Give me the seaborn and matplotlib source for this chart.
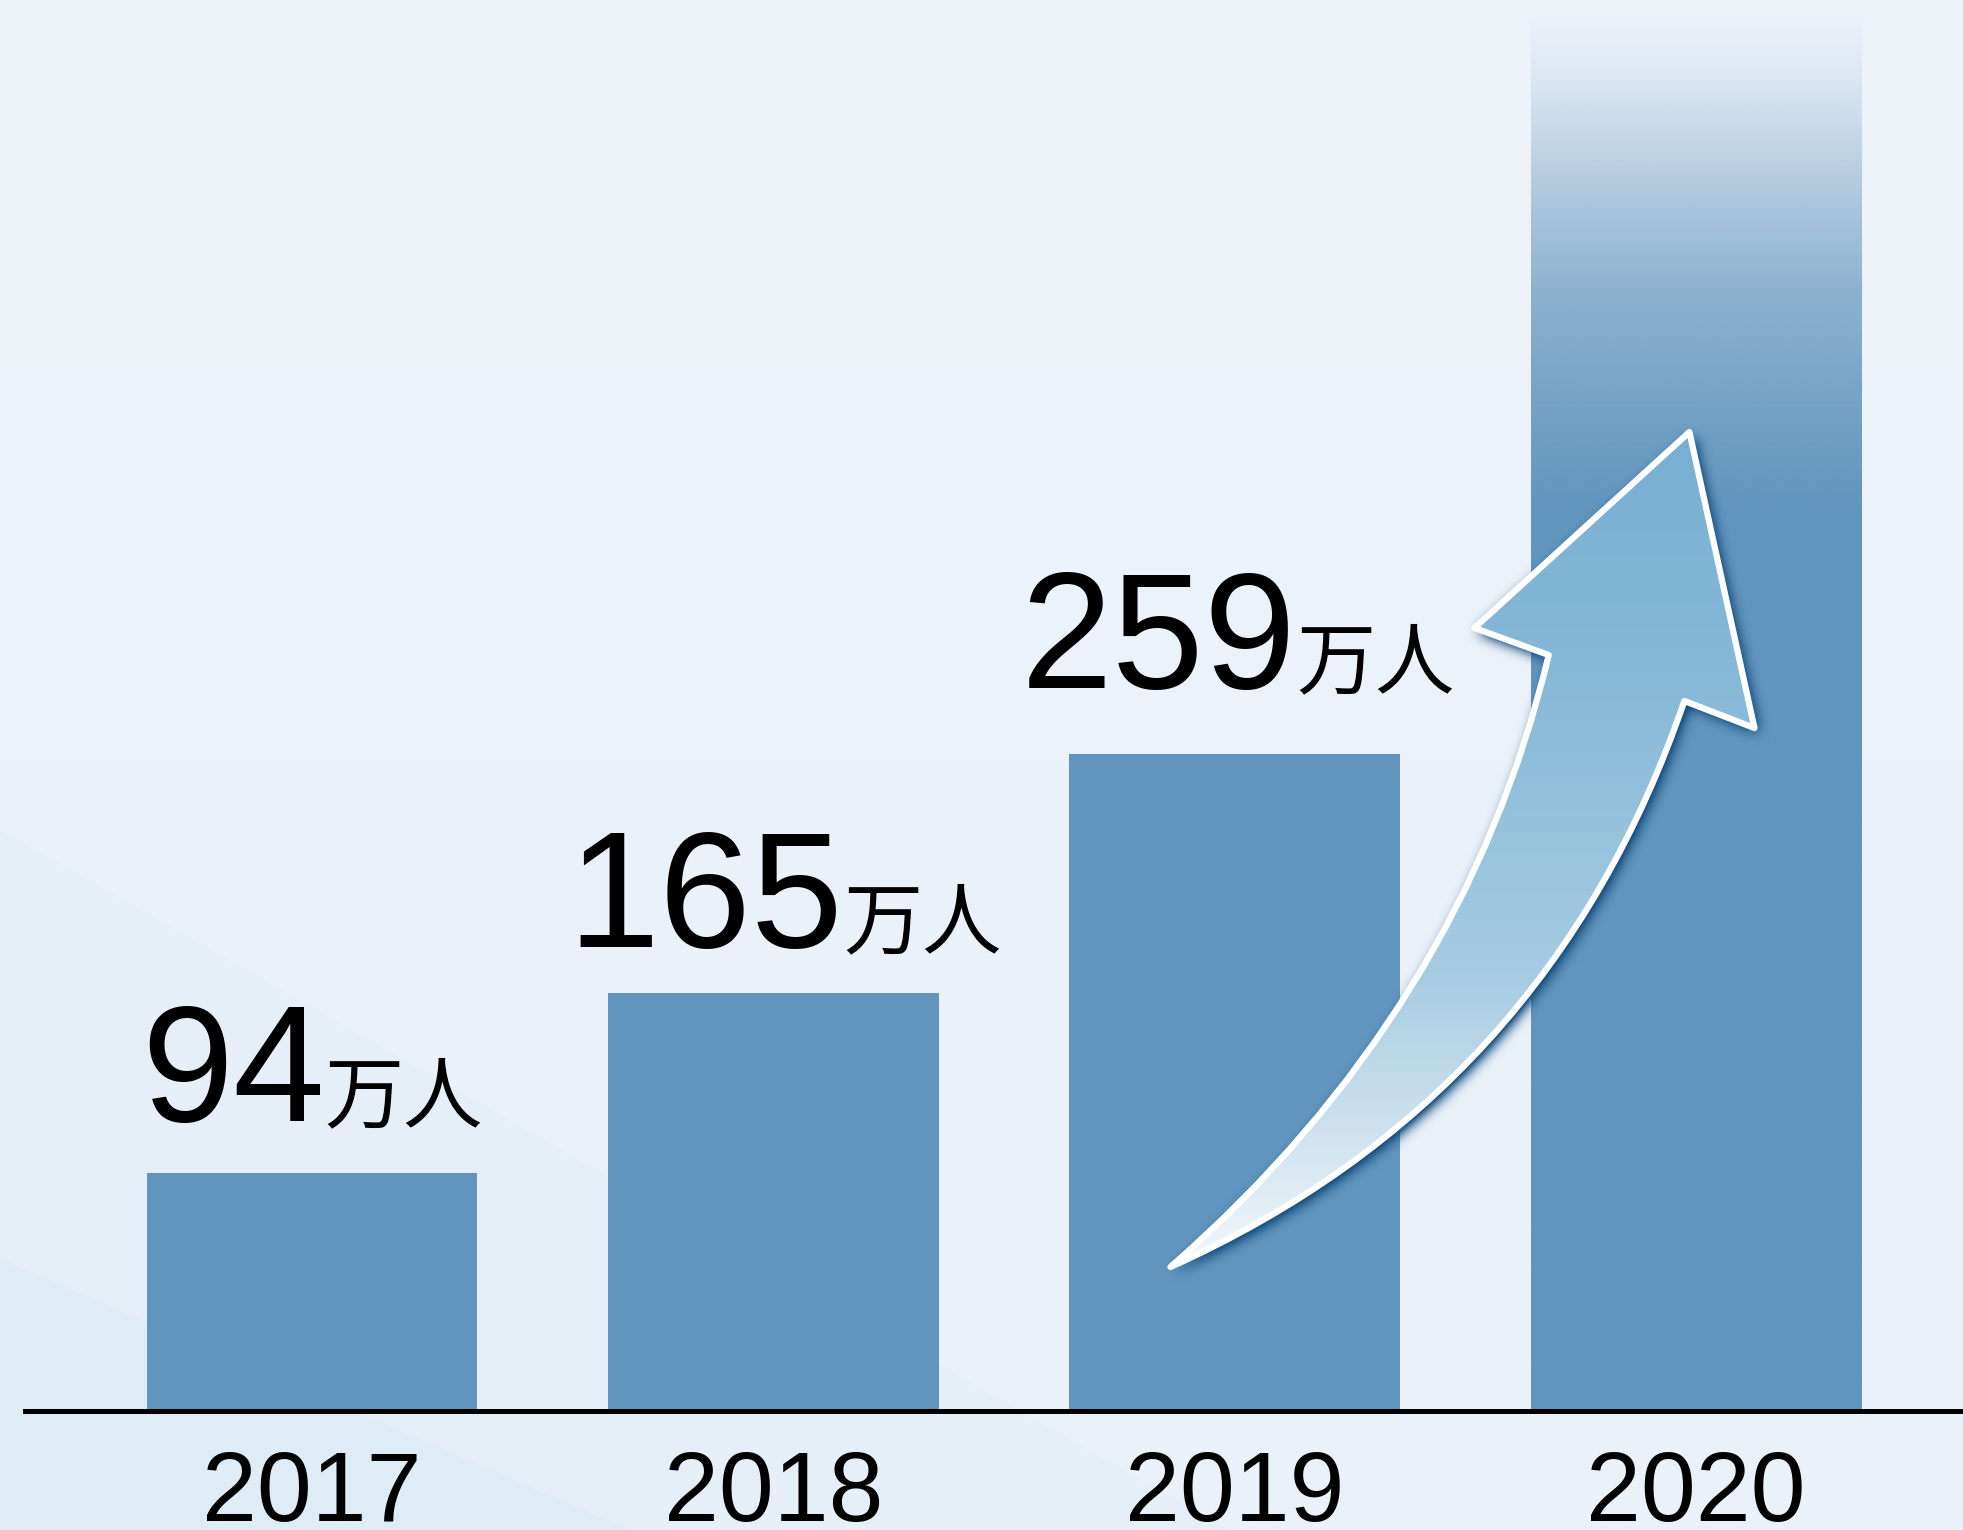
import numpy as np
import pandas as pd
import matplotlib
matplotlib.use("Agg")
import matplotlib.pyplot as plt
import seaborn as sns
from matplotlib.path import Path
from matplotlib.patches import PathPatch
from matplotlib.colors import LinearSegmentedColormap, to_rgb

# ---- data -------------------------------------------------------------
years = ["2017", "2018", "2019", "2020"]
visitors = [94, 165, 259, 550]          # 万人
show_value = [True, True, True, False]
unit_text = "万人"

# small per-label nudges (points) for the value captions
label_dx = [0, 8, 2, 0]
label_dy = [-2, -6, 9, 0]

# ---- style ------------------------------------------------------------
W, H, DPI = 1963, 1530, 100
BAR = "#6195bd"
SHADOW = "#154f80"
DIGITS = ["Liberation Sans", "DejaVu Sans"]
sns.set_theme(style="white")
plt.rcParams["font.family"] = DIGITS + ["Noto Sans CJK JP"]

fig = plt.figure(figsize=(W / DPI, H / DPI), dpi=DPI)

# soft pale-blue backdrop with faint diagonal bands
bg = fig.add_axes([0, 0, 1, 1], zorder=-10)
yy, xx = np.mgrid[0:H, 0:W].astype(np.float32)
top_c = np.array([238, 243, 250], np.float32) / 255
bot_c = np.array([234, 241, 249], np.float32) / 255
t = (yy / H)[..., None]
img = top_c * (1 - t) + bot_c * t


def band(y0, slope, color):
    d = yy - (y0 + slope * xx)
    w = np.clip(d / 3.0, 0, 1)[..., None]
    c = np.array(color, np.float32) / 255
    return img * (1 - w) + c * w


img = band(828, 0.57, (230, 238, 247))
img = band(1258, 0.43, (223, 235, 245))
bg.imshow(img, extent=[0, 1, 0, 1], aspect="auto", origin="upper")
bg.set_axis_off()

# ---- bars -------------------------------------------------------------
L, B = 25 / W, 119 / H
ax = fig.add_axes([L, B, 1 - L, 1 - B])
ax.patch.set_alpha(0)

df = pd.DataFrame({"year": years, "visitors": visitors})
sns.barplot(data=df, x="year", y="visitors", color=BAR, saturation=1,
            width=0.717, linewidth=0, edgecolor="none", ax=ax, zorder=2)

XLIM, YLIM = (-0.622, 3.579), (0, 556.6)
ax.set_xlim(*XLIM)
ax.set_ylim(*YLIM)

# last bar fades out towards the top
bar = ax.patches[3]
x0, w, h = bar.get_x(), bar.get_width(), bar.get_height()
bar.set_facecolor("none")
ys = np.linspace(0, h, 700)
alpha = np.interp(ys, [0, 355, 400, 440, 480, 530, h],
                  [1, 1, 0.85, 0.70, 0.45, 0.10, 0.0])
rgba = np.zeros((700, 1, 4))
rgba[..., :3] = to_rgb(BAR)
rgba[..., 3] = alpha[:, None]
im = ax.imshow(rgba[::-1], extent=[x0, x0 + w, 0, h], aspect="auto",
               zorder=2, interpolation="bilinear")
im.set_clip_path(bar)

# ---- rising arrow -----------------------------------------------------
tail = (1.861, 56.8)
c_up = (2.497, 157.9)
notch_l = (2.681, 298.2)
barb_l = (2.520, 308.9)
tip = (2.986, 386.2)
barb_r = (3.127, 269.4)
notch_r = (2.975, 280.1)
c_lo = (2.682, 123.95)
verts = [tail, c_up, notch_l, barb_l, tip, barb_r, notch_r, c_lo, tail, tail]
codes = [Path.MOVETO, Path.CURVE3, Path.CURVE3, Path.LINETO, Path.LINETO,
         Path.LINETO, Path.LINETO, Path.CURVE3, Path.CURVE3, Path.CLOSEPOLY]
arrow = Path(verts, codes)

ax.set_xlim(*XLIM)
ax.set_ylim(*YLIM)

# blurred drop shadow, built in pixel space
arrow_px = ax.transData.transform_path(arrow)
ext = arrow_px.get_extents()
m = 60
gx = np.arange(int(ext.x0) - m, int(ext.x1) + m) + 0.5
gy = np.arange(int(ext.y0) - m, int(ext.y1) + m) + 0.5
GX, GY = np.meshgrid(gx, gy)
sdx, sdy = 4.0, -4.0
inside = arrow_px.contains_points(
    np.column_stack([(GX - sdx).ravel(), (GY - sdy).ravel()]))
mask = inside.reshape(GX.shape).astype(np.float32)


def box_blur(a, r, axis):
    pads = [(r + 1, r) if k == axis else (0, 0) for k in range(2)]
    c = np.cumsum(np.pad(a, pads), axis=axis)
    if axis == 0:
        return (c[2 * r + 1:] - c[:-2 * r - 1]) / (2 * r + 1)
    return (c[:, 2 * r + 1:] - c[:, :-2 * r - 1]) / (2 * r + 1)


for _ in range(3):
    mask = box_blur(mask, 6, 0)
    mask = box_blur(mask, 6, 1)
shadow = np.zeros(mask.shape + (4,), np.float32)
shadow[..., :3] = to_rgb(SHADOW)
shadow[..., 3] = np.clip(mask * 1.7, 0, 1) * 0.95
inv = ax.transData.inverted()
(dx0, dy0), (dx1, dy1) = inv.transform([(gx[0] - 0.5, gy[0] - 0.5),
                                        (gx[-1] + 0.5, gy[-1] + 0.5)])
ax.imshow(shadow, extent=[dx0, dx1, dy0, dy1], origin="lower",
          aspect="auto", zorder=3, interpolation="bilinear")

# gradient body
clip = PathPatch(arrow, facecolor="none", edgecolor="none", zorder=4)
ax.add_patch(clip)
fill_cmap = LinearSegmentedColormap.from_list(
    "rise",
    [(0.0, "#f4f8fb"), (0.16, "#cfe2ee"), (0.35, "#a6cce2"),
     (0.68, "#88bad8"), (1.0, "#77afd3")])
grad = np.linspace(0, 1, 500)[::-1, None]
fill = ax.imshow(grad, cmap=fill_cmap, extent=[1.8, 3.2, 56.8, 386.2],
                 aspect="auto", zorder=4, interpolation="bilinear")
fill.set_clip_path(clip)

outline = PathPatch(arrow, facecolor="none", edgecolor="white", lw=4.5,
                    joinstyle="round", capstyle="round", zorder=5)
ax.add_patch(outline)

# ---- axes cosmetics ---------------------------------------------------
ax.set_xlim(*XLIM)
ax.set_ylim(*YLIM)
for side in ("top", "right", "left"):
    ax.spines[side].set_visible(False)
ax.spines["bottom"].set_color("black")
ax.spines["bottom"].set_linewidth(3.6)
ax.spines["bottom"].set_zorder(6)
ax.set_yticks([])
ax.set_xlabel("")
ax.set_ylabel("")
ax.tick_params(axis="x", length=0, pad=28, labelsize=71, colors="black")
for lbl in ax.get_xticklabels():
    lbl.set_fontfamily(DIGITS)

# ---- value labels -----------------------------------------------------
renderer = fig.canvas.get_renderer()
lift = 39  # points above the bar top
for i, (v, show) in enumerate(zip(visitors, show_value)):
    if not show:
        continue
    dy = lift + label_dy[i]
    num = ax.annotate(f"{v}", xy=(i, v), xytext=(0, dy),
                      textcoords="offset points", ha="left", va="baseline",
                      fontsize=119, family=DIGITS, color="black", zorder=7)
    unit = ax.annotate(unit_text, xy=(i, v), xytext=(0, dy),
                       textcoords="offset points", ha="left", va="baseline",
                       fontsize=57, family="Noto Sans CJK JP", color="black",
                       zorder=7)
    wn = num.get_window_extent(renderer).width * 72 / DPI
    wu = unit.get_window_extent(renderer).width * 72 / DPI
    left = -(wn + wu) / 2 + label_dx[i]
    num.xyann = (left, dy)
    unit.xyann = (left + wn, dy)

fig.savefig("out.png", dpi=DPI)
